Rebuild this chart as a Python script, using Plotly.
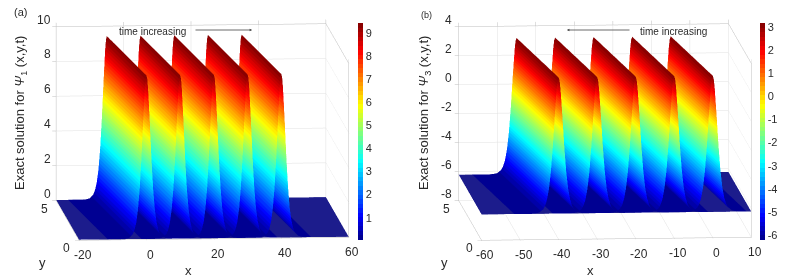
import numpy as np
import plotly.graph_objects as go

# pulse cross-section: offset from ridge (x units), height above floor
pulse_offsets = [-11.5, -7, -6, -5, -4, -3.5, -3, -2.5, -2, -1.5, -1, -0.5, -0.25, 0, 0.25, 0.5, 1, 1.5, 2, 2.5, 3, 3.5, 4, 5, 6, 7, 8.8]
pulse_heights = [0.01, 0.01, 0.03, 0.09, 0.3, 0.55, 0.97, 1.7, 2.87, 4.58, 6.69, 8.6, 9.2, 9.4, 9.2, 8.6, 6.69, 4.58, 2.87, 1.7, 0.97, 0.55, 0.3, 0.09, 0.03, 0.01, 0.01]
y_edges = [0, 5]

# panel (a)
a_centers = [0, 10, 20, 30, 40]
a_floor = 0.03
a_xrange = [-20, 60]
a_zrange = [0, 10]
a_xticks = [-20, 0, 20, 40, 60]
a_zticks = [0, 2, 4, 6, 8, 10]
a_cticks = [1, 2, 3, 4, 5, 6, 7, 8, 9]
a_cmax = 9.43

# panel (b)
b_centers = [-40, -30, -20, -10, 0]
b_floor = -6.22
b_xrange = [-60, 10]
b_zrange = [-8, 4]
b_xticks = [-60, -50, -40, -30, -20, -10, 0, 10]
b_zticks = [-8, -6, -4, -2, 0, 2, 4]
b_cticks = [-6, -5, -4, -3, -2, -1, 0, 1, 2, 3]
b_cmax = 3.17

jet_anchor = [(0, 0, 135), (0, 0, 255), (0, 255, 255), (255, 255, 0), (255, 0, 0), (128, 0, 0)]
jet_pos = [0, 0.11, 0.36, 0.62, 0.87, 1]
n_steps = 48
scale = []
for k in range(n_steps):
    t = (k + 0.5) / n_steps
    c = [int(np.interp(t, jet_pos, [a[i] for a in jet_anchor])) for i in range(3)]
    col = f"rgb({c[0]},{c[1]},{c[2]})"
    scale += [[k / n_steps, col], [(k + 1) / n_steps, col]]

FONT = "Liberation Sans, Arial, sans-serif"
TEXT = "#2a2a2a"
LIGHT = dict(ambient=1, diffuse=0, specular=0, roughness=1, fresnel=0)
GRID = "rgb(225,225,225)"
FLOOR = "rgb(28,28,140)"


def add_panel(fig, scene, centers, floor, xr, cmax, cbar_x, cticks):
    fig.add_trace(go.Surface(x=xr, y=y_edges, z=[[floor, floor], [floor, floor]], scene=scene,
                             colorscale=[[0, FLOOR], [1, FLOOR]], showscale=False, lighting=LIGHT, hoverinfo="skip"))
    for i, c in enumerate(centers):
        xs = [[max(c + o - y, xr[0]) if c + o - y < xr[1] else xr[1] for o in pulse_offsets] for y in y_edges]
        ys = [[y for _ in pulse_offsets] for y in y_edges]
        zs = [[floor + h for h in pulse_heights] for _ in y_edges]
        fig.add_trace(go.Surface(x=xs, y=ys, z=zs, scene=scene, colorscale=scale, cmin=floor, cmax=cmax,
                                 showscale=i == 0, lighting=LIGHT, hoverinfo="skip",
                                 colorbar=dict(x=cbar_x, xanchor="left", xref="paper", y=0.53, yanchor="middle", yref="paper",
                                               len=217 / 280, lenmode="fraction", thickness=5, outlinewidth=0,
                                               tickmode="array", tickvals=cticks, ticktext=[str(t) for t in cticks], ticks="",
                                               tickfont=dict(size=11, family=FONT, color=TEXT),
                                               ypad=0, xpad=0)))


def axis(rng, ticks):
    return dict(range=rng, tickvals=ticks, showticklabels=False, title=dict(text=""),
                showbackground=False, showgrid=True, gridcolor=GRID, gridwidth=1, zeroline=False,
                showline=True, linecolor="rgb(190,190,190)", linewidth=1, mirror="all", ticks="outside", ticklen=4,
                tickcolor="rgb(190,190,190)", showspikes=False)


def tick_label(v, x, y, z, xshift, yshift, xanchor="center"):
    return dict(text=str(v), x=x, y=y, z=z, showarrow=False, xshift=xshift, yshift=yshift, xanchor=xanchor,
                yanchor="middle", font=dict(size=12, family=FONT, color=TEXT))


d = 3.0
eye = dict(x=-0.0794 * 0.99 * d, y=-0.9968 * 0.99 * d, z=0.1385 * d)
aspect = dict(x=2.05, y=2.18, z=1.33)


def scene_layout(dom, xr, zr, xt, zt, zshift):
    labels = [tick_label(v, v, 0, zr[0], 4, -15) for v in xt]
    labels += [tick_label(v, xr[0], 5, v, zshift, 7, "right") for v in zt]
    labels += [tick_label(v, xr[0], v, zr[0], -12, -8) for v in y_edges]
    return dict(domain=dom, xaxis=axis(xr, xt), yaxis=axis([0, 5], y_edges), zaxis=axis(zr, zt),
                aspectmode="manual", aspectratio=aspect, annotations=labels,
                camera=dict(eye=eye, center=dict(x=0, y=0, z=0), up=dict(x=0, y=0, z=1),
                            projection=dict(type="orthographic")))


fig = go.Figure()
add_panel(fig, "scene", a_centers, a_floor, a_xrange, a_cmax, 358 / 801, a_cticks)
add_panel(fig, "scene2", b_centers, b_floor, b_xrange, b_cmax, 760 / 801, b_cticks)


def note(text, px, py, size=12, angle=0):
    return dict(text=text, x=px / 801, y=1 - py / 280, xref="paper", yref="paper", showarrow=False,
                xanchor="center", yanchor="middle",
                font=dict(size=size, family=FONT, color=TEXT), textangle=angle)


def arrow(x_tip, x_tail, py):
    return dict(text="", x=x_tip / 801, y=1 - py / 280, xref="paper", yref="paper", ax=x_tail - x_tip, ay=0,
                showarrow=True, arrowhead=2, arrowsize=0.6, arrowwidth=0.8, arrowcolor="#444")


fig.update_layout(
    width=801, height=280, margin=dict(l=0, r=0, t=0, b=0), paper_bgcolor="white", showlegend=False,
    scene=scene_layout(dict(x=[0, 0.505], y=[0.0571, 1]), a_xrange, a_zrange, a_xticks, a_zticks, -3),
    scene2=scene_layout(dict(x=[0.51, 1], y=[0.0571, 1]), b_xrange, b_zrange, b_xticks, b_zticks, -4),
    annotations=[
        note("(a)", 20, 12, 11), note("(b)", 426, 15, 9),
        note("Exact solution for <i>Ψ</i><sub>1</sub> (x,y,t)", 20, 113, 13, -90),
        note("Exact solution for <i>Ψ</i><sub>3</sub> (x,y,t)", 424, 113, 13, -90),
        note("time increasing", 152, 31, 10), note("time increasing", 673, 31, 10),
        arrow(252, 194, 30), arrow(567, 631, 30),
        note("x", 188, 270, 13), note("y", 42, 262, 13),
        note("x", 590, 270, 13), note("y", 444, 262, 13),
    ],
)
fig.write_html("out.html", config=dict(displayModeBar=False),
               post_script="document.body.style.margin='0';document.body.style.overflow='hidden';")
